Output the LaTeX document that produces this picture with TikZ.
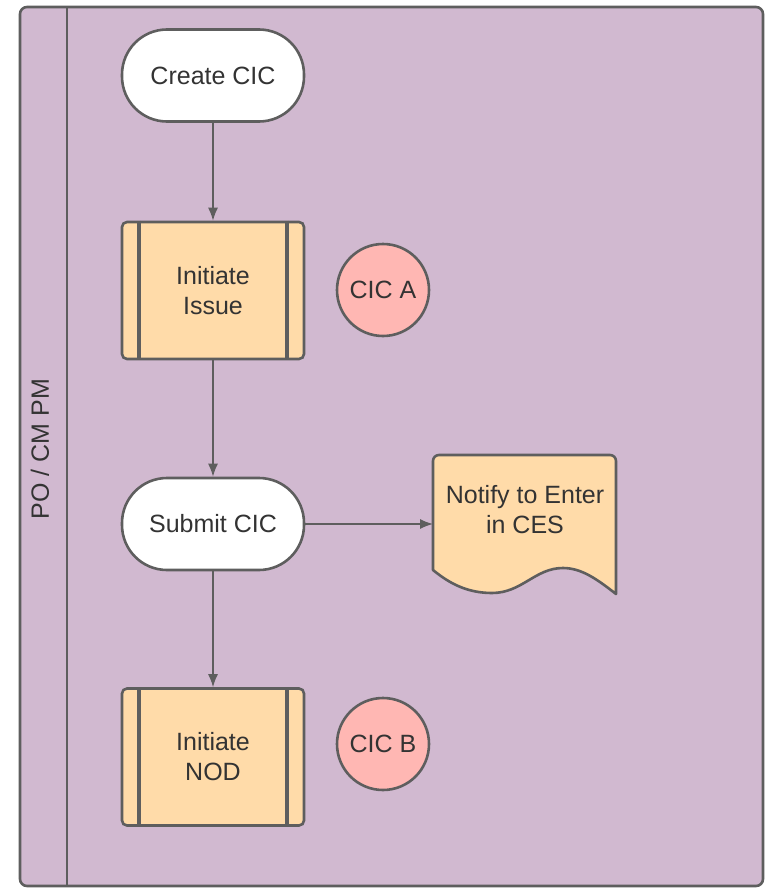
\documentclass[tikz,border=0pt]{standalone}
\usepackage{fontspec}
\setmainfont{Liberation Sans}
\definecolor{pool}{HTML}{D1B9D0}
\definecolor{strk}{HTML}{5E5E5E}
\definecolor{proc}{HTML}{FFDBA9}
\definecolor{circ}{HTML}{FFB7B3}
\definecolor{txt}{HTML}{333333}
\tikzset{
  base/.style={draw=strk, line width=2.6pt, text=txt, font=\fontsize{25}{30}\selectfont, align=center, inner sep=0pt},
  term/.style={base, fill=white, minimum width=182pt, minimum height=92pt, rounded corners=45pt},
  procbox/.style={base, fill=proc, minimum width=182pt, minimum height=137pt, rounded corners=5pt},
  tag/.style={base, fill=circ, circle, minimum size=92pt},
  conn/.style={draw=strk, line width=1.4pt, -{Latex[length=13pt,width=10pt]}},
}
\usetikzlibrary{arrows.meta}
\begin{document}
\begin{tikzpicture}[x=1pt,y=-1pt]
\useasboundingbox (0,0) rectangle (767,888);
% pool
\draw[draw=strk, fill=pool, line width=2.6pt, rounded corners=7pt] (20,7) rectangle (763,886);
\draw[strk, line width=2.6pt] (67,7) -- (67,886);
\node[rotate=90, text=txt, font=\fontsize{25}{30}\selectfont] (lane) at (40,449) {PO / CM PM};
% nodes
\node[term] (create) at (213,75.5) {Create CIC};
\node[procbox] (issue) at (213,290.5) {Initiate\\Issue};
\draw[strk, line width=4pt] ([xshift=18pt]issue.north west) -- ([xshift=18pt]issue.south west);
\draw[strk, line width=4pt] ([xshift=-18pt]issue.north east) -- ([xshift=-18pt]issue.south east);
\node[tag] (cica) at (383,290) {CIC A};
\node[term] (submit) at (213,524) {Submit CIC};
\node[procbox] (nod) at (213,757) {Initiate\\NOD};
\draw[strk, line width=4pt] ([xshift=18pt]nod.north west) -- ([xshift=18pt]nod.south west);
\draw[strk, line width=4pt] ([xshift=-18pt]nod.north east) -- ([xshift=-18pt]nod.south east);
\node[tag] (cicb) at (383,744) {CIC B};
% document
\draw[draw=strk, fill=proc, line width=2.6pt, line join=round]
  (433,570) -- (433,461) arc[start angle=180, end angle=270, radius=6] -- (610,455)
  arc[start angle=270, end angle=360, radius=6] -- (616,594)
  .. controls (598,580) and (582,568) .. (563,568)
  .. controls (535,568) and (522,593) .. (492,593)
  .. controls (468,593) and (450,584) .. (433,570) -- cycle;
\node[text=txt, font=\fontsize{25}{30}\selectfont, align=center] (notify) at (525,510) {Notify to Enter\\in CES};
\coordinate (docw) at (433,524);
% connectors
\draw[conn] (create) -- (issue);
\draw[conn] (issue) -- (submit);
\draw[conn] (submit) -- (nod);
\draw[conn] (submit.east) -- (docw);
\end{tikzpicture}
\end{document}
